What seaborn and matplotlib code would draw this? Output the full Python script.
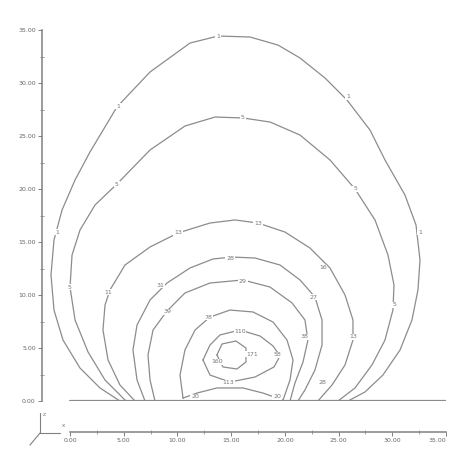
import numpy as np
import pandas as pd
import matplotlib
matplotlib.use("Agg")
import matplotlib.pyplot as plt
from matplotlib.lines import Line2D
import seaborn as sns

# ---- data: isolines (x, y in axis units) ----
a_x = [4.65, 2.79, 0.93, -0.65, -1.49, -1.77, -1.49, -0.74, 0.47, 1.86, 4.37, 7.45, 11.17, 13.78, 16.75, 19.36, 21.41, 23.74, 25.78, 27.92, 29.32, 31.18, 32.21, 32.58, 32.39, 31.83, 30.72, 29.13, 27.46, 25.88]
a_y = [0.0, 1.23, 3.11, 5.75, 8.58, 11.89, 15.19, 18.02, 20.85, 23.49, 27.74, 31.04, 33.77, 34.43, 34.34, 33.58, 32.36, 30.47, 28.40, 25.57, 22.74, 19.43, 16.60, 13.30, 10.47, 7.64, 4.81, 2.45, 0.85, 0.0]

b_x = [5.21, 3.26, 1.68, 0.47, 0.00, 0.19, 0.93, 2.33, 4.37, 7.45, 10.70, 13.50, 16.10, 18.62, 21.41, 24.20, 26.53, 28.39, 29.60, 30.16, 30.06, 29.32, 28.11, 26.53, 24.95]
b_y = [0.0, 1.98, 4.62, 7.64, 10.75, 13.77, 16.13, 18.49, 20.47, 23.68, 25.94, 26.79, 26.70, 26.32, 25.09, 22.74, 20.00, 17.08, 13.77, 10.94, 8.58, 5.75, 3.40, 1.23, 0.0]

c_x = [6.05, 4.65, 3.54, 3.07, 3.26, 3.72, 5.12, 7.45, 10.05, 13.03, 15.36, 17.50, 20.01, 22.34, 24.20, 25.60, 26.34, 26.34, 25.60, 24.39, 23.08]
c_y = [0.0, 1.51, 3.87, 6.70, 9.06, 10.47, 12.83, 14.53, 15.85, 16.79, 17.08, 16.79, 15.94, 14.43, 12.55, 10.00, 7.64, 5.75, 3.40, 1.51, 0.0]

d_x = [6.98, 6.24, 5.86, 6.24, 7.45, 9.03, 11.17, 13.31, 15.08, 17.22, 19.55, 21.41, 22.80, 23.46, 23.46, 22.80, 21.87, 21.22]
d_y = [0.0, 1.98, 4.81, 7.17, 9.53, 11.13, 12.55, 13.40, 13.58, 13.49, 12.83, 11.42, 9.81, 7.64, 5.28, 2.92, 1.04, 0.0]

e_x = [7.91, 7.45, 7.26, 7.73, 9.03, 10.70, 13.03, 16.10, 18.62, 20.67, 21.87, 22.15, 21.69, 20.94, 20.48]
e_y = [0.0, 1.98, 4.34, 6.70, 8.49, 10.19, 11.13, 11.42, 10.75, 9.25, 7.64, 5.75, 3.68, 1.70, 0.0]

f_x = [10.52, 10.24, 10.70, 11.64, 13.03, 14.89, 17.03, 18.90, 20.20, 20.76, 20.48, 19.83, 17.96, 16.10, 13.68, 11.82, 10.52]
f_y = [0.28, 2.45, 4.81, 6.70, 7.92, 8.58, 8.40, 7.45, 5.75, 3.87, 1.98, 0.09, 0.75, 1.23, 1.23, 0.75, 0.28]

g_x = [12.38, 13.03, 13.96, 15.82, 17.69, 18.90, 19.55, 18.99, 17.22, 14.89, 13.03, 12.38]
g_y = [3.87, 5.28, 6.23, 6.70, 6.13, 5.19, 4.25, 3.21, 2.26, 1.79, 2.45, 3.87]

h_x = [13.68, 14.15, 15.45, 16.38, 16.38, 15.54, 14.24, 13.68]
h_y = [4.34, 5.38, 5.66, 5.00, 3.68, 3.02, 3.21, 4.34]

surface_x = [0, 35]
surface_y = [0, 0]

# contour labels
label_text = ["1", "1", "1", "1", "1",
              "5", "5", "5", "5", "5",
              "13", "13", "11", "16", "13",
              "28", "31", "27", "28",
              "29", "39", "38",
              "78", "20", "20",
              "110", "113", "58",
              "171", "160"]
label_x = [13.78, 4.47, 25.88, -1.21, 32.58,
           16.10, 4.37, 26.53, 0.00, 30.25,
           10.05, 17.50, 3.54, 23.55, 26.34,
           14.89, 8.38, 22.62, 23.46,
           16.10, 9.12, 21.87,
           12.85, 11.64, 19.27,
           15.82, 14.71, 19.27,
           16.94, 13.68]
label_y = [34.34, 27.83, 28.68, 15.94, 15.94,
           26.70, 20.47, 20.00, 10.75, 9.06,
           15.85, 16.70, 10.28, 12.55, 6.04,
           13.49, 10.94, 9.81, 1.70,
           11.32, 8.40, 6.04,
           7.92, 0.38, 0.38,
           6.60, 1.70, 4.34,
           4.43, 3.68]

x_ticks = [0, 5, 10, 15, 20, 25, 30, 35]
y_ticks = [0, 5, 10, 15, 20, 25, 30, 35]

# ---- drawing ----
sns.set_theme(style="white")
plt.rcParams['font.family'] = ['DejaVu Sans']

fig = plt.figure(figsize=(4.49, 4.5), dpi=100)
ax = fig.add_axes([42 / 449, 1 - 401 / 450, (446 - 42) / 449, 371 / 450])

line_col = "#8c8c8c"
lines = [(a_x, a_y), (b_x, b_y), (c_x, c_y), (d_x, d_y), (e_x, e_y),
         (f_x, f_y), (g_x, g_y), (h_x, h_y)]
for xs, ys in lines:
    sns.lineplot(x=xs, y=ys, sort=False, estimator=None, ax=ax,
                 color=line_col, linewidth=0.9)

sns.lineplot(x=surface_x, y=surface_y, sort=False, estimator=None, ax=ax,
             color="#8a8a8a", linewidth=1.6)

for t, lx, ly in zip(label_text, label_x, label_y):
    ax.text(lx, ly, t, fontsize=4.5, color="#777777", ha="center", va="center",
            bbox=dict(boxstyle="square,pad=0.1", fc="white", ec="none"), zorder=5)

ax.set_xlim((42 - 70) / 10.743, 35)
ax.set_ylim(0, 35)
ax.set_facecolor("white")

for s in ["top", "right"]:
    ax.spines[s].set_visible(False)
ax.spines["left"].set_bounds(0, 35)
ax.spines["bottom"].set_bounds(0, 35)
ax.spines["bottom"].set_position(("outward", 22.3))
for s in ["left", "bottom"]:
    ax.spines[s].set_color("#808080")
    ax.spines[s].set_linewidth(1.1)

ax.set_xticks(x_ticks)
ax.set_yticks(y_ticks)
ax.set_xticklabels([f"{v:.2f}" for v in x_ticks])
ax.set_yticklabels([f"{v:.2f}" for v in y_ticks])
ax.set_xticks(np.arange(2.5, 35, 5), minor=True)
ax.set_yticks(np.arange(2.5, 35, 5), minor=True)
ax.tick_params(axis="both", which="major", direction="out", length=3, width=0.7,
               colors="#808080", labelsize=4.5, labelcolor="#666666", pad=1.5,
               left=True, bottom=True)
ax.tick_params(axis="both", which="minor", direction="inout", length=3, width=0.6,
               colors="#909090", left=True, bottom=True)
ax.grid(False)
ax.get_xticklabels()[-1].set_horizontalalignment("right")

# small axis triad at bottom left
tri = dict(color="#808080", linewidth=0.8, transform=fig.transFigure)
ox, oy = 40 / 449, 1 - 433 / 450
fig.add_artist(Line2D([ox, ox + 20 / 449], [oy, oy], **tri))
fig.add_artist(Line2D([ox, ox], [oy, oy + 20 / 450], **tri))
fig.add_artist(Line2D([ox, ox - 10 / 449], [oy, oy - 12 / 450], **tri))
fig.text(ox + 22 / 449, oy + 5 / 450, "x", fontsize=4, color="#777777", ha="left", va="bottom")
fig.text(ox + 3 / 449, oy + 18 / 450, "z", fontsize=4, color="#777777", ha="left", va="center")

fig.savefig("out.png", dpi=100, facecolor="white")
